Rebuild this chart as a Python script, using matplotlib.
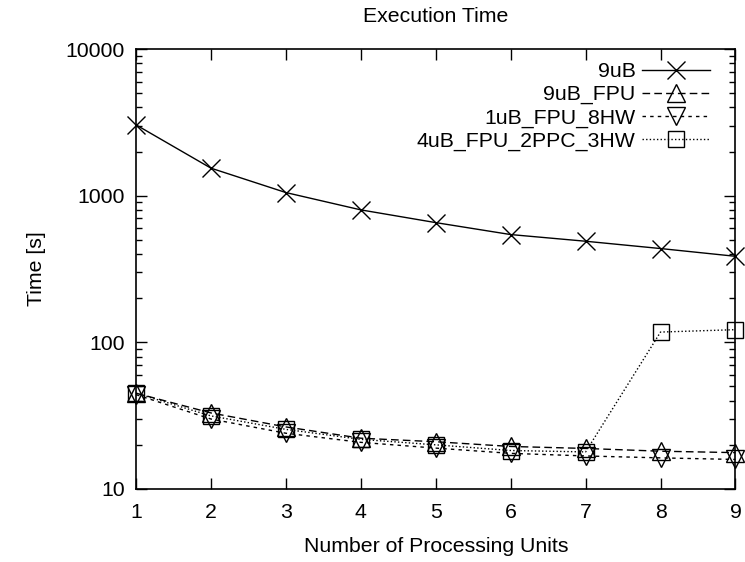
import matplotlib
matplotlib.use("Agg")
import matplotlib.pyplot as plt
from matplotlib.ticker import FixedLocator, LogLocator, NullFormatter, FixedFormatter

plt.rcParams['font.family'] = ['Liberation Sans', 'DejaVu Sans']

units = [1, 2, 3, 4, 5, 6, 7, 8, 9]
series_names = ["9uB", "9uB_FPU", "1uB_FPU_8HW", "4uB_FPU_2PPC_3HW"]
t_9uB = [3040, 1540, 1050, 800, 655, 543, 489, 436, 386]
t_9uB_FPU = [45, 33, 26.5, 22.2, 21, 19.5, 18.9, 18.1, 17.7]
t_1uB_FPU_8HW = [44, 30, 24, 20.8, 19, 17.5, 16.8, 16.3, 15.9]
t_4uB_FPU_2PPC_3HW = [45, 31.5, 25.5, 21.8, 20, 18.3, 17.9, 117.5, 122]
y_ticks = [10, 100, 1000, 10000]
y_tick_labels = ["10", "100", "1000", "10000"]

FS = 15.3
fig = plt.figure(figsize=(7.45, 5.62), dpi=100)
ax = fig.add_axes([0.1826, 0.1299, 0.9872 - 0.1826, 0.9128 - 0.1299])

styles = [
    dict(ls='-', marker='x', ms=13),
    dict(ls=(0, (5.5, 3)), marker='^', ms=12.5),
    dict(ls=(0, (2.5, 3)), marker='v', ms=12.5),
    dict(ls=(0, (1, 1.6)), marker='s', ms=12),
]
data = [t_9uB, t_9uB_FPU, t_1uB_FPU_8HW, t_4uB_FPU_2PPC_3HW]
for name, vals, st in zip(series_names, data, styles):
    ax.plot(units, vals, color='black', lw=1.0, mfc='none', mec='black',
            mew=1.0, label=name, clip_on=False, **st)

ax.set_yscale('log')
ax.set_xlim(1, 9)
ax.set_ylim(10, 10000)
ax.xaxis.set_major_locator(FixedLocator(units))
ax.yaxis.set_major_locator(FixedLocator(y_ticks))
ax.yaxis.set_major_formatter(FixedFormatter(y_tick_labels))
ax.yaxis.set_minor_locator(LogLocator(base=10, subs=range(2, 10)))
ax.yaxis.set_minor_formatter(NullFormatter())

ax.tick_params(which='both', direction='in', top=True, right=True, width=1.0)
ax.tick_params(which='major', length=8, labelsize=FS)
ax.tick_params(which='minor', length=4.5)
ax.tick_params(axis='x', which='major', pad=10)
ax.tick_params(axis='y', which='major', pad=8)
for s in ax.spines.values():
    s.set_linewidth(1.2)

ax.set_xlabel("Number of Processing Units", fontsize=FS, labelpad=11)
ax.set_ylabel("Time [s]", fontsize=FS, labelpad=14)
fig.text(0.5 * (0.1826 + 0.9872), 0.9715, "Execution Time", fontsize=FS,
         ha='center', va='center')

leg = ax.legend(loc='upper right', bbox_to_anchor=(0.9575, 0.970), markerfirst=False,
                frameon=False, fontsize=FS, handlelength=3.2, handletextpad=0.3,
                borderpad=0, borderaxespad=0, labelspacing=0.19)

fig.savefig("out.png", dpi=100)
